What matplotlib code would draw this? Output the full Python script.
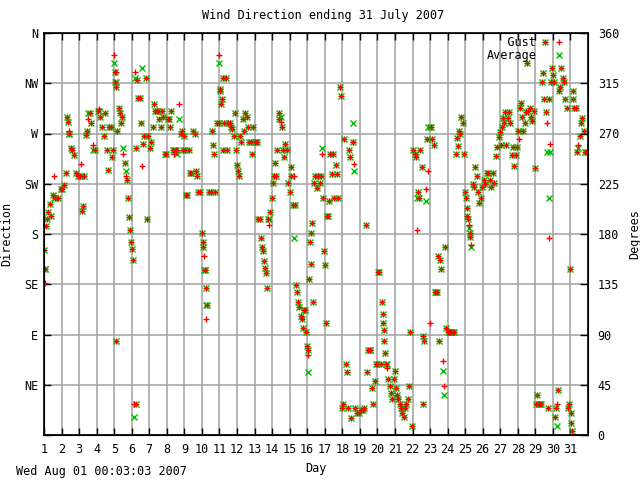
import matplotlib
matplotlib.use('Agg')
import matplotlib.pyplot as plt

# day of month (fractional), gust and average wind direction in degrees
day = [
    1.00, 1.03, 1.08, 1.12, 1.18, 1.25, 1.32, 1.40, 1.50, 1.57, 1.65, 1.80, 1.95,
    2.05, 2.15, 2.25, 2.32, 2.36, 2.40, 2.45, 2.52, 2.62, 2.70, 2.80, 2.92,
    3.05, 3.12, 3.17, 3.22, 3.30, 3.40, 3.47, 3.52, 3.60, 3.70, 3.80, 3.90,
    4.05, 4.12, 4.20, 4.30, 4.40, 4.50, 4.58, 4.62, 4.70, 4.80, 4.87, 4.95,
    5.00, 5.03, 5.06, 5.08, 5.10, 5.12, 5.15, 5.25, 5.32, 5.38, 5.45, 5.50, 5.60, 5.68, 5.72, 5.78, 5.85, 5.90, 5.95,
    6.00, 6.08, 6.15, 6.20, 6.22, 6.25, 6.30, 6.38, 6.45, 6.55, 6.60, 6.65, 6.72, 6.80, 6.87, 6.95,
    7.05, 7.12, 7.20, 7.28, 7.35, 7.42, 7.50, 7.58, 7.65, 7.72, 7.80, 7.88, 7.95,
    8.05, 8.12, 8.20, 8.25, 8.35, 8.42, 8.50, 8.60, 8.70, 8.78, 8.85, 8.92, 8.97,
    9.02, 9.08, 9.15, 9.25, 9.32, 9.40, 9.50, 9.58, 9.65, 9.72, 9.80, 9.90,
    10.00, 10.05, 10.08, 10.12, 10.15, 10.18, 10.22, 10.25, 10.30, 10.40, 10.50, 10.60, 10.65, 10.70, 10.75, 10.85, 10.95,
    11.00, 11.02, 11.05, 11.08, 11.12, 11.18, 11.22, 11.28, 11.35, 11.42, 11.50, 11.58, 11.65, 11.72, 11.80, 11.88, 11.95,
    12.02, 12.08, 12.12, 12.18, 12.25, 12.32, 12.40, 12.48, 12.55, 12.62, 12.70, 12.78, 12.85, 12.92,
    13.00, 13.08, 13.15, 13.22, 13.30, 13.38, 13.42, 13.48, 13.55, 13.60, 13.65, 13.70, 13.75, 13.82, 13.90, 13.97,
    14.05, 14.12, 14.18, 14.22, 14.30, 14.38, 14.42, 14.48, 14.55, 14.60, 14.68, 14.75, 14.82, 14.90,
    15.00, 15.05, 15.10, 15.18, 15.22, 15.28, 15.35, 15.42, 15.48, 15.55, 15.62, 15.68, 15.75, 15.82, 15.90, 15.95,
    16.00, 16.03, 16.06, 16.10, 16.15, 16.20, 16.22, 16.28, 16.32, 16.40, 16.45, 16.55, 16.62, 16.70, 16.78, 16.85, 16.92, 16.98,
    17.03, 17.08, 17.12, 17.18, 17.25, 17.32, 17.40, 17.48, 17.55, 17.62, 17.70, 17.78, 17.85, 17.92, 17.97,
    18.05, 18.12, 18.20, 18.25, 18.30, 18.38, 18.45, 18.52, 18.58, 18.62, 18.68, 18.75, 18.85, 18.95,
    19.05, 19.15, 19.25, 19.35, 19.42, 19.48, 19.55, 19.60, 19.70, 19.75, 19.85, 19.92,
    20.00, 20.05, 20.10, 20.18, 20.25, 20.30, 20.32, 20.35, 20.40, 20.45, 20.50, 20.55, 20.62, 20.70, 20.78, 20.85, 20.92,
    21.00, 21.05, 21.12, 21.20, 21.28, 21.35, 21.42, 21.50, 21.58, 21.65, 21.72, 21.80, 21.85, 21.95,
    22.05, 22.12, 22.20, 22.28, 22.32, 22.38, 22.45, 22.52, 22.58, 22.62, 22.68, 22.75, 22.82, 22.90, 22.97,
    23.05, 23.10, 23.20, 23.28, 23.32, 23.38, 23.45, 23.50, 23.58, 23.65, 23.72, 23.78, 23.85, 23.92,
    24.00, 24.08, 24.15, 24.22, 24.30, 24.38, 24.45, 24.52, 24.58, 24.65, 24.72, 24.78, 24.85, 24.92,
    25.00, 25.04, 25.08, 25.12, 25.16, 25.20, 25.25, 25.30, 25.35, 25.42, 25.50, 25.58, 25.65, 25.72, 25.80, 25.88, 25.95,
    26.05, 26.15, 26.22, 26.30, 26.40, 26.50, 26.58, 26.65, 26.75, 26.82, 26.90, 26.97,
    27.05, 27.10, 27.15, 27.22, 27.28, 27.35, 27.42, 27.50, 27.58, 27.65, 27.72, 27.80, 27.88, 27.95,
    28.02, 28.08, 28.12, 28.18, 28.25, 28.32, 28.40, 28.48, 28.52, 28.60, 28.68, 28.75, 28.82, 28.90, 28.97,
    29.05, 29.10, 29.18, 29.25, 29.32, 29.40, 29.45, 29.50, 29.55, 29.60, 29.65, 29.70, 29.75, 29.80, 29.85, 29.92, 29.97,
    30.02, 30.08, 30.12, 30.18, 30.22, 30.28, 30.35, 30.42, 30.48, 30.55, 30.62, 30.70, 30.78, 30.85, 30.92,
    31.00, 31.02, 31.05, 31.08, 31.12, 31.15, 31.22, 31.30, 31.38, 31.45, 31.52, 31.60, 31.68, 31.75, 31.82, 31.90,
]

gust = [
    166, 149, 136, 187, 193, 200, 207, 196, 215, 232, 212, 212, 220,
    220, 224, 235, 285, 280, 272, 270, 257, 255, 251, 235, 232,
    232, 243, 201, 205, 232, 269, 272, 283, 288, 279, 260, 255,
    290, 292, 285, 276, 268, 288, 255, 237, 276, 276, 249, 255,
    340, 325, 316, 312, 84, 325, 272, 293, 288, 279, 285, 252, 244, 232, 228, 212, 195, 184, 173,
    167, 157, 28, 325, 257, 28, 318, 302, 302, 279, 241, 261, 268, 320, 193, 268,
    257, 262, 276, 296, 290, 290, 290, 283, 276, 290, 285, 252, 252,
    283, 283, 276, 290, 255, 252, 255, 255, 296, 270, 272, 255, 268,
    255, 215, 215, 255, 235, 235, 272, 270, 236, 232, 218, 218,
    181, 173, 168, 160, 148, 148, 132, 104, 116, 218, 218, 272, 260, 252, 218, 279, 279,
    340, 310, 308, 296, 301, 320, 255, 279, 320, 255, 279, 279, 276, 274, 268, 288, 255,
    242, 236, 232, 268, 262, 283, 272, 288, 285, 276, 262, 262, 252, 276,
    262, 262, 262, 193, 193, 176, 168, 165, 156, 150, 145, 132, 193, 188, 200, 212,
    226, 232, 244, 232, 255, 283, 288, 280, 276, 255, 249, 261, 255, 226,
    218, 232, 240, 206, 232, 206, 134, 128, 119, 115, 107, 104, 96, 112, 112, 92,
    80, 76, 72, 140, 173, 153, 181, 190, 119, 226, 232, 221, 232, 226, 232, 252, 212, 165,
    152, 100, 196, 196, 210, 252, 234, 252, 212, 242, 234, 212, 312, 304, 24,
    28, 265, 64, 56, 24, 255, 249, 15, 262, 262, 243, 24, 20, 20,
    22, 22, 24, 188, 56, 76, 76, 76, 42, 28, 48, 64,
    64, 146, 146, 64, 119, 108, 100, 94, 84, 73, 64, 60, 50, 44, 38, 32, 50,
    57, 42, 36, 32, 28, 24, 20, 16, 24, 28, 32, 44, 92, 8,
    255, 252, 249, 184, 218, 212, 255, 240, 89, 28, 84, 220, 265, 236, 100,
    276, 265, 260, 128, 128, 128, 160, 84, 157, 149, 66, 44, 168, 96,
    92, 92, 92, 92, 92, 92, 252, 266, 259, 272, 270, 285, 279, 252,
    218, 212, 203, 196, 193, 188, 181, 177, 170, 225, 222, 240, 232, 218, 208, 212, 222,
    228, 225, 235, 235, 228, 222, 235, 226, 250, 258, 267, 271,
    260, 276, 284, 279, 289, 260, 284, 289, 279, 251, 258, 241, 251, 258,
    272, 265, 293, 297, 285, 272, 279, 289, 333, 290, 293, 285, 281, 290, 239,
    28, 36, 28, 28, 28, 316, 324, 301, 352, 289, 279, 24, 301, 176, 261, 316, 329,
    322, 316, 16, 24, 28, 40, 308, 312, 329, 320, 316, 301, 293, 24, 28,
    149, 20, 11, 4, 308, 301, 293, 293, 253, 260, 268, 279, 284, 272, 253, 253,
]

average = [
    166, 149, 149, 187, 193, 200, 207, 196, 215, 212, 212, 212, 220,
    220, 224, 235, 285, 280, 270, 270, 257, 255, 251, 235, 232,
    232, 232, 201, 205, 232, 269, 272, 288, 288, 279, 255, 255,
    290, 290, 285, 276, 268, 288, 255, 237, 276, 276, 249, 255,
    333, 325, 316, 312, 84, 316, 272, 293, 288, 279, 285, 257, 244, 236, 228, 212, 195, 184, 173,
    167, 157, 16, 320, 257, 28, 318, 302, 302, 279, 329, 261, 268, 320, 193, 268,
    257, 262, 276, 296, 290, 290, 290, 283, 276, 290, 285, 252, 252,
    283, 283, 276, 290, 255, 255, 255, 252, 283, 270, 272, 255, 268,
    255, 215, 215, 255, 235, 235, 272, 270, 236, 232, 218, 218,
    181, 173, 168, 148, 148, 148, 132, 116, 116, 218, 218, 272, 260, 252, 218, 279, 279,
    333, 310, 308, 296, 301, 320, 255, 279, 320, 255, 279, 279, 276, 274, 268, 288, 255,
    242, 236, 232, 268, 262, 283, 272, 288, 285, 276, 262, 262, 252, 276,
    262, 262, 262, 193, 193, 176, 168, 165, 156, 150, 145, 132, 193, 193, 200, 212,
    226, 232, 244, 232, 255, 283, 288, 285, 276, 255, 249, 261, 255, 226,
    218, 232, 240, 206, 176, 206, 134, 128, 119, 115, 107, 104, 96, 112, 112, 92,
    80, 76, 56, 140, 173, 153, 181, 190, 119, 226, 232, 221, 232, 226, 232, 257, 212, 165,
    152, 100, 196, 196, 210, 252, 234, 252, 212, 242, 234, 212, 312, 304, 24,
    28, 265, 64, 56, 24, 255, 249, 15, 262, 279, 236, 24, 20, 20,
    22, 22, 24, 188, 56, 76, 76, 76, 42, 28, 48, 64,
    64, 146, 146, 64, 119, 108, 100, 94, 84, 73, 64, 64, 50, 44, 38, 32, 50,
    57, 42, 36, 32, 28, 24, 20, 16, 24, 28, 32, 44, 92, 8,
    255, 252, 249, 212, 218, 212, 255, 240, 89, 28, 84, 210, 265, 276, 276,
    276, 265, 260, 128, 128, 128, 160, 84, 157, 149, 57, 36, 168, 96,
    92, 92, 92, 92, 92, 92, 252, 266, 259, 272, 270, 285, 279, 252,
    218, 212, 203, 196, 193, 185, 181, 177, 168, 225, 222, 240, 232, 218, 208, 212, 222,
    228, 225, 235, 235, 228, 222, 235, 226, 250, 258, 267, 271,
    260, 276, 284, 279, 289, 260, 284, 289, 279, 251, 258, 241, 251, 258,
    272, 272, 293, 297, 285, 272, 279, 289, 333, 290, 293, 285, 281, 290, 239,
    28, 36, 28, 28, 28, 316, 324, 301, 352, 289, 253, 24, 301, 212, 253, 316, 329,
    322, 316, 16, 24, 8, 40, 308, 312, 329, 320, 316, 301, 293, 24, 28,
    149, 20, 11, 4, 308, 301, 293, 293, 253, 257, 268, 279, 284, 272, 253, 253,
]

compass = ['', 'NE', 'E', 'SE', 'S', 'SW', 'W', 'NW', 'N']
degree_ticks = [0, 45, 90, 135, 180, 225, 270, 315, 360]
day_ticks = list(range(1, 32))

plt.rcParams['font.family'] = 'DejaVu Sans Mono'
plt.rcParams['font.size'] = 8.5

fig = plt.figure(figsize=(6.4, 4.8), dpi=100)
ax = fig.add_axes([44 / 640, 45 / 480, 544 / 640, 402 / 480])

ax.plot(day, gust, linestyle='none', marker='+', color='#ff0000',
        markersize=5, markeredgewidth=1, label='   Gust', zorder=3)
ax.plot(day, average, linestyle='none', marker='x', color='#00c000',
        markersize=4.2, markeredgewidth=1, label='Average', zorder=2)

ax.set_xlim(1, 32)
ax.set_ylim(0, 360)
ax.set_xticks(day_ticks)
ax.set_yticks(degree_ticks)
ax.set_yticklabels(compass)
ax.grid(True, color='#a0a0a0', linewidth=1.1)
ax.set_axisbelow(True)
ax.tick_params(axis='x', direction='in', length=5, width=1, top=True, pad=6)
ax.tick_params(axis='y', direction='in', length=5, width=1, pad=4)
for s in ax.spines.values():
    s.set_linewidth(1.2)

ax2 = ax.twinx()
ax2.set_ylim(0, 360)
ax2.set_yticks(degree_ticks)
ax2.tick_params(axis='y', direction='in', length=6, width=1, pad=7)
ax.tick_params(axis='y', right=False)

ax.set_xlabel('Day', labelpad=4)
ax.set_ylabel('Direction')
ax2.set_ylabel('Degrees')
ax.yaxis.set_label_coords((13 - 44) / 544, 0.5)
ax2.yaxis.set_label_coords((628 - 44) / 544, 0.5)

fig.text(0.505, 1 - 15 / 480, 'Wind Direction ending 31 July 2007', ha='center', va='center')
fig.text(16 / 640, 1 - 471 / 480, 'Wed Aug 01 00:03:03 2007', ha='left', va='center')

ax.legend(loc='upper right', bbox_to_anchor=(0.985, 1.015), frameon=False,
          markerfirst=False, handlelength=2, handletextpad=0.9,
          labelspacing=0.0, borderpad=0.3, numpoints=1)

fig.savefig('out.png', dpi=100)
